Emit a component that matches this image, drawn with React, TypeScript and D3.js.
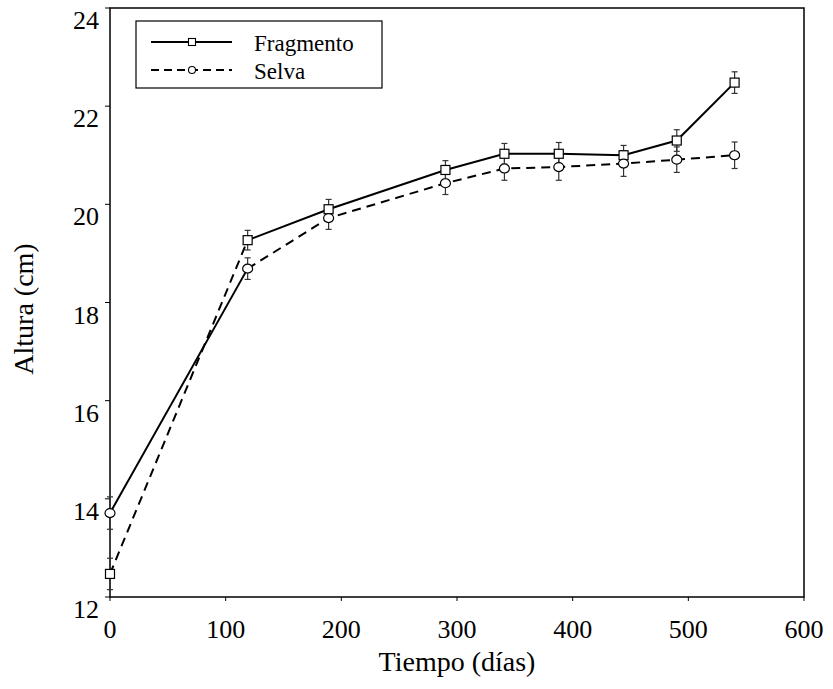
import React from "react";
import * as d3 from "d3";

const days = [0, 119, 189, 290, 341, 388, 444, 490, 540];
const fragmento = [12.47, 19.27, 19.9, 20.7, 21.03, 21.03, 21.0, 21.3, 22.48];
const fragmentoErr = [0.32, 0.2, 0.2, 0.19, 0.21, 0.23, 0.2, 0.22, 0.22];
const selva = [13.71, 18.69, 19.72, 20.43, 20.73, 20.76, 20.83, 20.91, 21.0];
const selvaErr = [0.33, 0.22, 0.23, 0.23, 0.24, 0.27, 0.26, 0.26, 0.27];
const xTicks = [0, 100, 200, 300, 400, 500, 600];
const yTicks = [12, 14, 16, 18, 20, 22, 24];
const seriesNames = ["Fragmento", "Selva"];

const W = 833, H = 689;
const left = 110, right = 804, top = 8, bottom = 597;
const FONT = '"Liberation Serif", "Times New Roman", Tinos, Times, serif';

export default function App() {
  const x = d3.scaleLinear().domain([0, 600]).range([left, right]);
  const y = d3.scaleLinear().domain([12, 24]).range([bottom, top]);
  const line = d3.line<[number, number]>().x(d => x(d[0])).y(d => y(d[1]));
  const ts = { fontFamily: FONT };

  // In the reference, the first interval's line styles are swapped between series
  const solidPts: [number, number][][] = [];
  const dashPts: [number, number][][] = [];
  solidPts.push([[days[0], selva[0]], [days[1], selva[1]]]);
  dashPts.push([[days[0], fragmento[0]], [days[1], fragmento[1]]]);
  solidPts.push(days.slice(1).map((d, i) => [d, fragmento[i + 1]] as [number, number]));
  dashPts.push(days.slice(1).map((d, i) => [d, selva[i + 1]] as [number, number]));

  const errBar = (d: number, v: number, e: number, k: string) => (
    <g key={k} stroke="#333" strokeWidth={1.2}>
      <line x1={x(d)} x2={x(d)} y1={y(v + e)} y2={y(v - e)} />
      <line x1={x(d) - 3} x2={x(d) + 3} y1={y(v + e)} y2={y(v + e)} />
      <line x1={x(d) - 3} x2={x(d) + 3} y1={y(v - e)} y2={y(v - e)} />
    </g>
  );

  return (
    <svg width={W} height={H} style={{ position: "absolute", left: 0, top: 0 }}>
      <rect width={W} height={H} fill="white" />
      <rect x={left} y={top} width={right - left} height={bottom - top} fill="none" stroke="#000" strokeWidth={1.5} />
      {xTicks.map(t => (
        <g key={"xt" + t}>
          <line x1={x(t)} x2={x(t)} y1={bottom} y2={bottom + 4} stroke="#000" strokeWidth={1} />
          <text x={x(t)} y={bottom + 41} textAnchor="middle" style={ts} fontSize={26}>{t}</text>
        </g>
      ))}
      {yTicks.map(t => (
        <g key={"yt" + t}>
          <line x1={left - 5} x2={left} y1={y(t)} y2={y(t)} stroke="#000" strokeWidth={1} />
          <text x={left - 11} y={y(t) + 21} textAnchor="end" style={ts} fontSize={26}>{t}</text>
        </g>
      ))}
      <text x={457} y={671} textAnchor="middle" style={ts} fontSize={28}>Tiempo (días)</text>
      <text transform={`translate(33,${309}) rotate(-90)`} textAnchor="middle" style={ts} fontSize={28}>Altura (cm)</text>

      {days.map((d, i) => errBar(d, fragmento[i], fragmentoErr[i], "fe" + i))}
      {days.map((d, i) => errBar(d, selva[i], selvaErr[i], "se" + i))}

      {solidPts.map((p, i) => (
        <path key={"s" + i} d={line(p) || ""} fill="none" stroke="#000" strokeWidth={2} />
      ))}
      {dashPts.map((p, i) => (
        <path key={"d" + i} d={line(p) || ""} fill="none" stroke="#000" strokeWidth={2} strokeDasharray="9,6" />
      ))}

      {days.map((d, i) => (
        <rect key={"m" + i} x={x(d) - 4.5} y={y(fragmento[i]) - 4.5} width={9} height={9} fill="white" stroke="#000" strokeWidth={1.2} />
      ))}
      {days.map((d, i) => (
        <ellipse key={"c" + i} cx={x(d)} cy={y(selva[i])} rx={5} ry={4.5} fill="white" stroke="#000" strokeWidth={1.2} />
      ))}

      <rect x={136} y={21} width={246} height={67} fill="white" stroke="#000" strokeWidth={1.2} />
      <line x1={151} x2={232} y1={42} y2={42} stroke="#000" strokeWidth={2} />
      <rect x={188.5} y={38.5} width={7} height={7} fill="white" stroke="#000" strokeWidth={1.1} />
      <line x1={151} x2={232} y1={70} y2={70} stroke="#000" strokeWidth={2} strokeDasharray="8,5" />
      <circle cx={192} cy={70} r={3.5} fill="white" stroke="#000" strokeWidth={1.1} />
      <text x={254} y={51} style={ts} fontSize={23}>{seriesNames[0]}</text>
      <text x={254} y={79} style={ts} fontSize={23}>{seriesNames[1]}</text>
    </svg>
  );
}
